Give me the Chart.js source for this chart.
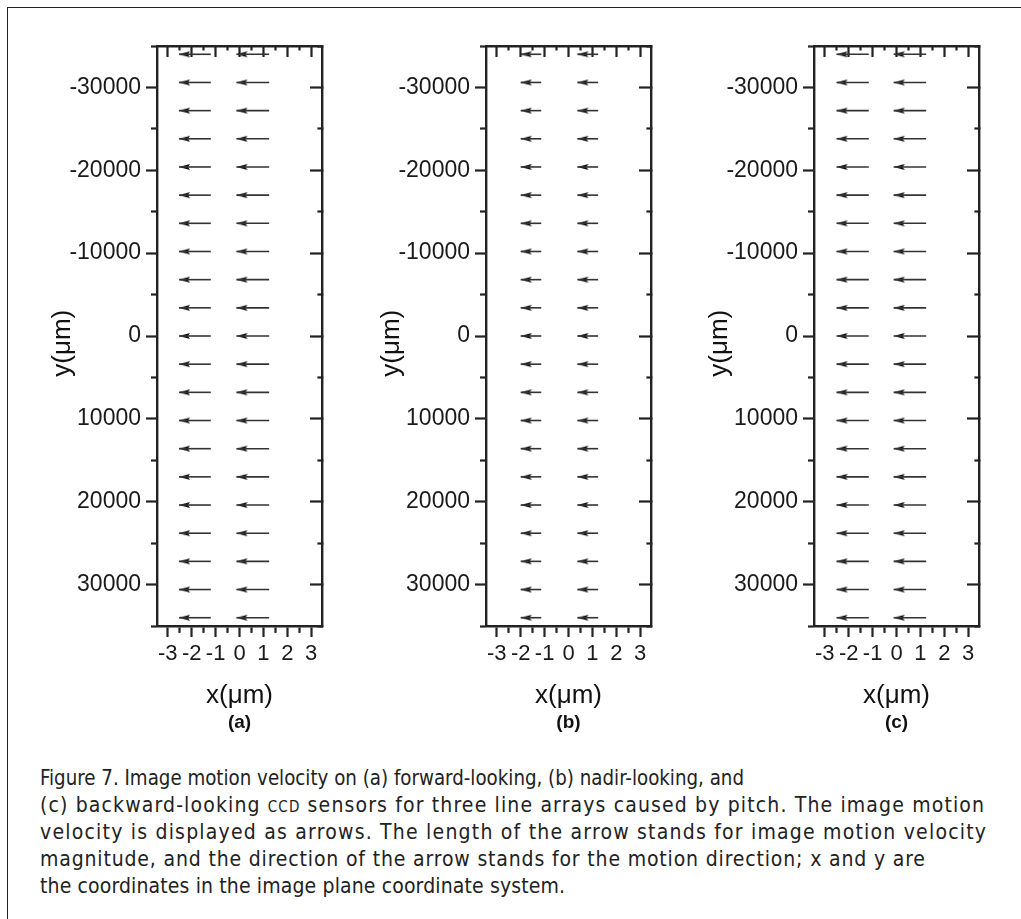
<!DOCTYPE html>
<html><head><meta charset="utf-8">
<script src="https://cdn.jsdelivr.net/npm/chart.js@4.4.1/dist/chart.umd.min.js"></script>
<style>
html,body{margin:0;padding:0;background:#fff;width:1021px;height:919px;overflow:hidden;}
#frame{position:absolute;left:7px;top:7px;width:1100px;height:1000px;border-left:1.5px solid #222;border-top:1.5px solid #222;}
.panel{position:absolute;top:0;width:320px;height:740px;}
#caption{position:absolute;left:0;top:740px;}
#caption text{font-family:"DejaVu Sans Condensed","Liberation Sans",Arial,sans-serif;font-size:21px;fill:#222;}
</style></head><body>
<div id="frame"></div>
<div class="panel" style="left:20px"><canvas id="cA" width="320" height="740"></canvas></div>
<div class="panel" style="left:349px"><canvas id="cB" width="320" height="740"></canvas></div>
<div class="panel" style="left:677px"><canvas id="cC" width="320" height="740"></canvas></div>
<svg id="caption" width="1021" height="179" xmlns="http://www.w3.org/2000/svg">
<text x="40" y="45" textLength="704" lengthAdjust="spacingAndGlyphs">Figure 7. Image motion velocity on (a) forward-looking, (b) nadir-looking, and</text>
<text x="40" y="72" textLength="944" lengthAdjust="spacing">(c) backward-looking <tspan font-size="15">CCD</tspan> sensors for three line arrays caused by pitch. The image motion</text>
<text x="40" y="99" textLength="946" lengthAdjust="spacing">velocity is displayed as arrows. The length of the arrow stands for image motion velocity</text>
<text x="40" y="126" textLength="885" lengthAdjust="spacing">magnitude, and the direction of the arrow stands for the motion direction; x and y are</text>
<text x="40" y="153" textLength="525" lengthAdjust="spacing">the coordinates in the image plane coordinate system.</text>
</svg>
<script>
// ---- data ----
const rowY = [-34000, -30600, -27200, -23800, -20400, -17000, -13600, -10200, -6800, -3400, 0,
              3400, 6800, 10200, 13600, 17000, 20400, 23800, 27200, 30600, 34000];
const panelLabels = ['(a)', '(b)', '(c)'];
const tailX_a = [-1.20, 1.24];
const headX_a = [-2.53, -0.13];
const tailX_b = [-1.14, 1.24];
const headX_b = [-2.00, 0.37];
const tailX_c = [-1.16, 1.24];
const headX_c = [-2.51, -0.12];
const xTickLabels = [-3, -2, -1, 0, 1, 2, 3];
const yTickLabels = [-30000, -20000, -10000, 0, 10000, 20000, 30000];

Chart.defaults.font.family = '"Liberation Sans", Arial, sans-serif';
Chart.defaults.color = '#1a1a1a';

const AXIS = '#222';
const head = document.createElement('canvas');
head.width = 24; head.height = 10;
(function(){
  const g = head.getContext('2d');
  g.fillStyle = '#0d0d0d';
  g.beginPath(); g.moveTo(12, 5); g.lineTo(23, 1.9); g.lineTo(21, 5); g.lineTo(23, 8.1); g.closePath(); g.fill();
})();

const isMajX = v => Math.abs(v - Math.round(v)) < 1e-6;
const isMajY = v => Math.abs(v % 10000) < 1e-6;

function makeChart(id, tails, heads, label) {
  const shaft = [], tips = [];
  for (let c = 0; c < tails.length; c++) {
    for (const y of rowY) {
      shaft.push({x: tails[c], y: y}, {x: heads[c], y: y});
      tips.push({x: heads[c], y: y});
    }
  }
  const xBase = {type: 'linear', min: -3.45, max: 3.45};
  const yBase = {type: 'linear', min: -35000, max: 35000, reverse: true};
  new Chart(document.getElementById(id), {
    type: 'scatter',
    data: {datasets: [
      {data: shaft, showLine: true, borderColor: '#333', borderWidth: 1.6, pointRadius: 0,
       segment: {borderColor: ctx => ctx.p0DataIndex % 2 === 1 ? 'rgba(0,0,0,0)' : '#333'}},
      {data: tips, showLine: false, pointStyle: head, pointRadius: 3}
    ]},
    options: {
      responsive: false, animation: false, events: [],
      layout: {padding: {left: 0, right: 18, top: 46, bottom: 6}},
      plugins: {
        legend: {display: false}, tooltip: {enabled: false},
        title: {display: true, text: label, position: 'bottom', fullSize: false,
                font: {size: 19, weight: 'bold'}, padding: 0, color: '#111'}
      },
      scales: {
        x: Object.assign({}, xBase, {
          position: 'bottom',
          ticks: {stepSize: 0.5, autoSkip: false, maxRotation: 0, includeBounds: false,
                  font: {size: 22}, padding: 4,
                  callback: v => xTickLabels.some(t => Math.abs(t - v) < 1e-6) ? String(Math.round(v)) : ''},
          grid: {drawOnChartArea: false, drawTicks: true, tickLength: 11, tickWidth: 2.2, tickColor: AXIS,
                 tickBorderDash: c => isMajX(c.tick.value) ? [] : [5.5, 100], tickBorderDashOffset: 0},
          border: {color: AXIS, width: 2.4},
          title: {display: true, text: 'x(μm)', font: {size: 26}, padding: {top: 0, bottom: 0}, color: '#111'},
          afterFit: s => { s.height = 85.2; }
        }),
        xTop: Object.assign({}, xBase, {
          position: 'top',
          ticks: {display: false, stepSize: 0.5, autoSkip: false, includeBounds: false},
          grid: {drawOnChartArea: false, drawTicks: true, tickLength: -11, tickWidth: 2.2, tickColor: AXIS,
                 tickBorderDash: c => isMajX(c.tick.value) ? [] : [5.5, 100],
                 tickBorderDashOffset: c => isMajX(c.tick.value) ? 0 : -6.5},
          border: {color: AXIS, width: 2.4},
          afterFit: s => { s.height = 0; }
        }),
        y: Object.assign({}, yBase, {
          position: 'left',
          ticks: {stepSize: 5000, autoSkip: false, font: {size: 23}, padding: 5,
                  callback: v => yTickLabels.includes(v) ? String(v) : ''},
          grid: {drawOnChartArea: false, drawTicks: true, tickLength: 11, tickWidth: 2.2, tickColor: AXIS,
                 tickBorderDash: c => isMajY(c.tick.value) ? [] : [5, 100],
                 tickBorderDashOffset: c => isMajY(c.tick.value) ? 0 : -5},
          border: {color: AXIS, width: 2.4},
          title: {display: true, text: 'y(μm)  ', font: {size: 26}, padding: {top: 27, bottom: 0}, color: '#111'},
          afterFit: s => { s.width = 137; }
        }),
        yRight: Object.assign({}, yBase, {
          position: 'right',
          ticks: {display: false, stepSize: 5000, autoSkip: false},
          grid: {drawOnChartArea: false, drawTicks: true, tickLength: -12, tickWidth: 2.2, tickColor: AXIS,
                 tickBorderDash: c => isMajY(c.tick.value) ? [] : [6, 100], tickBorderDashOffset: 0},
          border: {color: AXIS, width: 2.4},
          afterFit: s => { s.width = 0; }
        })
      }
    }
  });
}

makeChart('cA', tailX_a, headX_a, panelLabels[0]);
makeChart('cB', tailX_b, headX_b, panelLabels[1]);
makeChart('cC', tailX_c, headX_c, panelLabels[2]);
</script>
</body></html>
